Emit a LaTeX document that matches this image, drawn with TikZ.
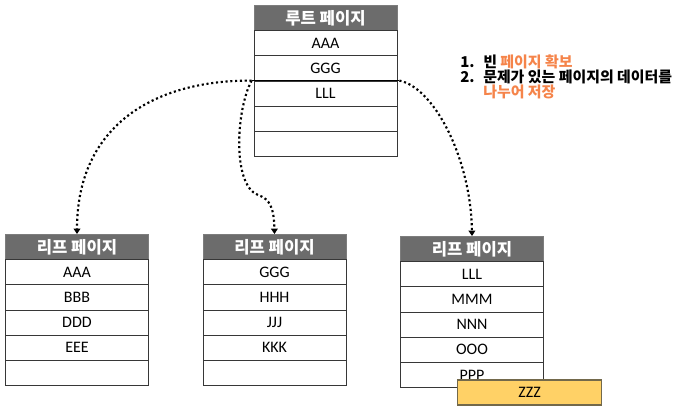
\documentclass[tikz,border=0pt]{standalone}
\usepackage{fontspec}
\setmainfont{Carlito}
\newfontfamily\krfont{Noto Sans CJK KR}
\usetikzlibrary{positioning}
\usetikzlibrary{calc}
\usetikzlibrary{arrows.meta}

\definecolor{headgray}{RGB}{108,108,108}
\definecolor{framegray}{RGB}{125,125,125}
\definecolor{rowline}{RGB}{55,55,55}
\definecolor{noteorange}{RGB}{245,132,74}
\definecolor{newgold}{RGB}{255,209,102}
\definecolor{newedge}{RGB}{115,105,75}

\tikzset{
  head/.style={draw=framegray, fill=headgray, text=white, line width=0.6pt,
    font=\krfont\bfseries\fontsize{12.5}{13}\selectfont,
    minimum width=107.25pt, minimum height=18.9pt, inner sep=0pt, anchor=north},
  row/.style={draw=rowline, fill=white, line width=0.6pt,
    font=\fontsize{12}{13}\selectfont,
    minimum width=107.25pt, minimum height=18.9pt, inner sep=0pt, anchor=north},
  note/.style={anchor=base west, inner sep=0pt,
    font=\krfont\bfseries\fontsize{11.2}{12}\selectfont},
  link/.style={dotted, line width=1.6pt, -{Triangle[width=5pt,length=4pt]}},
}

\begin{document}
\begin{tikzpicture}[x=0.75pt,y=-0.75pt]
\useasboundingbox (0,0) rectangle (678,411);

% root page
\node[head] (root) at (325.5,5) {루트 페이지};
\foreach \i/\t in {1/AAA,2/GGG,3/LLL,4/,5/}
  \node[row] (root-\i) at (325.5,{5+25.2*\i}) {\t};

% leaf pages
\node[head] (leafA) at (77,234) {리프 페이지};
\foreach \i/\t in {1/AAA,2/BBB,3/DDD,4/EEE,5/}
  \node[row] (leafA-\i) at (77,{234+25.2*\i}) {\t};

\node[head] (leafB) at (274.5,234) {리프 페이지};
\foreach \i/\t in {1/GGG,2/HHH,3/JJJ,4/KKK,5/}
  \node[row] (leafB-\i) at (274.5,{234+25.2*\i}) {\t};

\node[head] (leafC) at (472,236) {리프 페이지};
\foreach \i/\t in {1/LLL,2/MMM,3/NNN,4/OOO,5/PPP}
  \node[row] (leafC-\i) at (472,{236+25.2*\i}) {\t};

% new key
\node[draw=newedge, fill=newgold, line width=0.8pt, minimum width=108pt,
  minimum height=18.75pt, inner sep=0pt, font=\fontsize{12}{13}\selectfont]
  (zzz) at (529.7,392.5) {ZZZ};

% split line
\coordinate (lft) at ($(root-3.north west)+(-2,0)$);
\coordinate (rgt) at ($(root-3.north east)+(2,0)$);
\draw[line width=0.9pt] (lft) -- (rgt);

% pointers
\draw[link] (lft) .. controls (155,80) and (77,125) .. (leafA.north);
\draw[link] (lft) .. controls (236,110) and (232,185) .. (258,195)
  .. controls (270,199) and (274,208) .. (leafB.north);
\draw[link] (rgt) .. controls (435,88) and (471,160) .. (leafC.north);

% notes
\node[note] (note-1) at (460,67.5) {\makebox[17.25pt][l]{1.}빈 \textcolor{noteorange}{페이지 확보}};
\node[note] (note-2) at (460,82.5) {\makebox[17.25pt][l]{2.}문제가 있는 페이지의 데이터를};
\node[note] (note-3) at (483,97.5) {\textcolor{noteorange}{나누어 저장}};

\end{tikzpicture}
\end{document}
